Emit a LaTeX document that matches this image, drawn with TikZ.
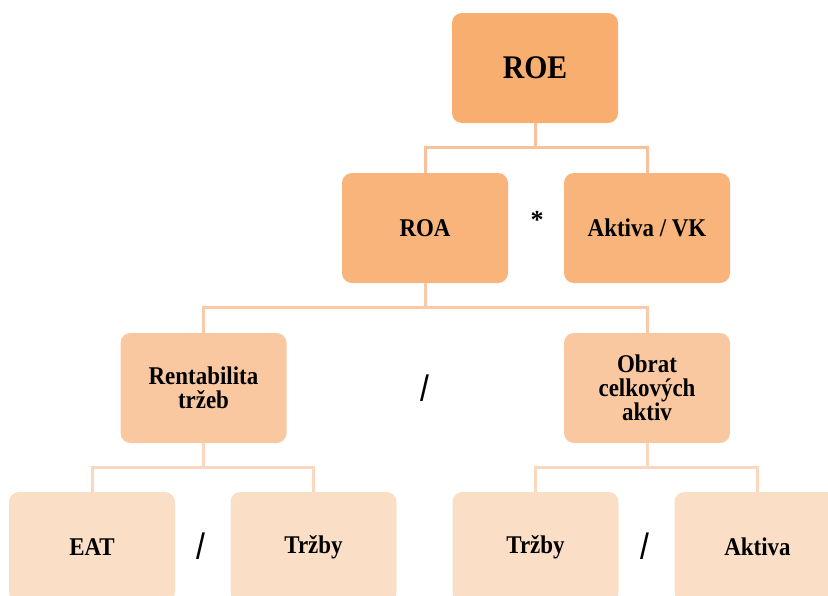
\documentclass[tikz,border=0pt]{standalone}
\usepackage{fontspec}
\setmainfont{Liberation Serif}
\newfontfamily\boxfont[FakeStretch=0.9]{Liberation Serif}
\newfontfamily\opfont{DejaVu Sans}
\begin{document}
\begin{tikzpicture}[x=1pt,y=-1pt,
  box/.style={rounded corners=10pt, minimum width=166pt, minimum height=110pt,
    inner sep=0pt, font=\boxfont\bfseries\fontsize{25.5}{24}\selectfont, text=black, align=center},
  lvla/.style={box, fill=lvlA},
  lvlb/.style={box, fill=lvlB},
  lvlc/.style={box, fill=lvlC},
  lvld/.style={box, fill=lvlD},
  conn/.style={line width=3pt},
  op/.style={font=\opfont\bfseries\fontsize{27}{27}\selectfont, inner sep=0pt}
]
\definecolor{lvlA}{HTML}{F8AE6E}
\definecolor{lvlB}{HTML}{F8B47B}
\definecolor{lvlC}{HTML}{F9C8A1}
\definecolor{lvlD}{HTML}{FBDEC6}
\definecolor{lineA}{HTML}{F9C19B}
\definecolor{lineB}{HTML}{FAC9A7}
\definecolor{lineC}{HTML}{FBD7BF}
\useasboundingbox (0,0) rectangle (828,595);
\clip (0,0) rectangle (828,595);

% boxes
\node[lvla, font=\boxfont\bfseries\fontsize{33}{34}\selectfont] (roe) at (535,68) {ROE};
\node[lvlb] (roa) at (425,228) {ROA};
\node[lvlb] (akt) at (647,228) {Aktiva / VK};
\node[lvlc] (rt) at (203.5,388) {Rentabilita\\tržeb};
\node[lvlc] (oca) at (647,388) {Obrat\\celkových\\aktiv};
\node[lvld] (eat) at (92,547) {EAT};
\node[lvld] (trz1) at (313.5,547) {Tržby};
\node[lvld] (trz2) at (535.5,547) {Tržby};
\node[lvld] (aktb) at (757.5,547) {Aktiva};

% operators
\node[font=\bfseries\fontsize{26}{26}\selectfont, inner sep=0pt] (times) at (537,220) {*};
\node[op] (div1) at (425,388.5) {\scalebox{0.9}[1.2]{/}};
\node[op] (div2) at (201,546) {\scalebox{0.9}[1.2]{/}};
\node[op] (div3) at (645,546) {\scalebox{0.9}[1.2]{/}};

% junctions
\coordinate (j1) at (535,147);
\coordinate (j2) at (425,307);
\coordinate (j3) at (203.5,467);
\coordinate (j4) at (647,467);

% connectors
\draw[conn, lineA] (roe.south) -- (j1);
\draw[conn, lineA] (roa.north) |- (j1) -| (akt.north);
\draw[conn, lineB] (roa.south) -- (j2);
\draw[conn, lineB] (rt.north) |- (j2) -| (oca.north);
\draw[conn, lineC] (rt.south) -- (j3);
\draw[conn, lineC] (eat.north) |- (j3) -| (trz1.north);
\draw[conn, lineC] (oca.south) -- (j4);
\draw[conn, lineC] (trz2.north) |- (j4) -| (aktb.north);
\end{tikzpicture}
\end{document}
